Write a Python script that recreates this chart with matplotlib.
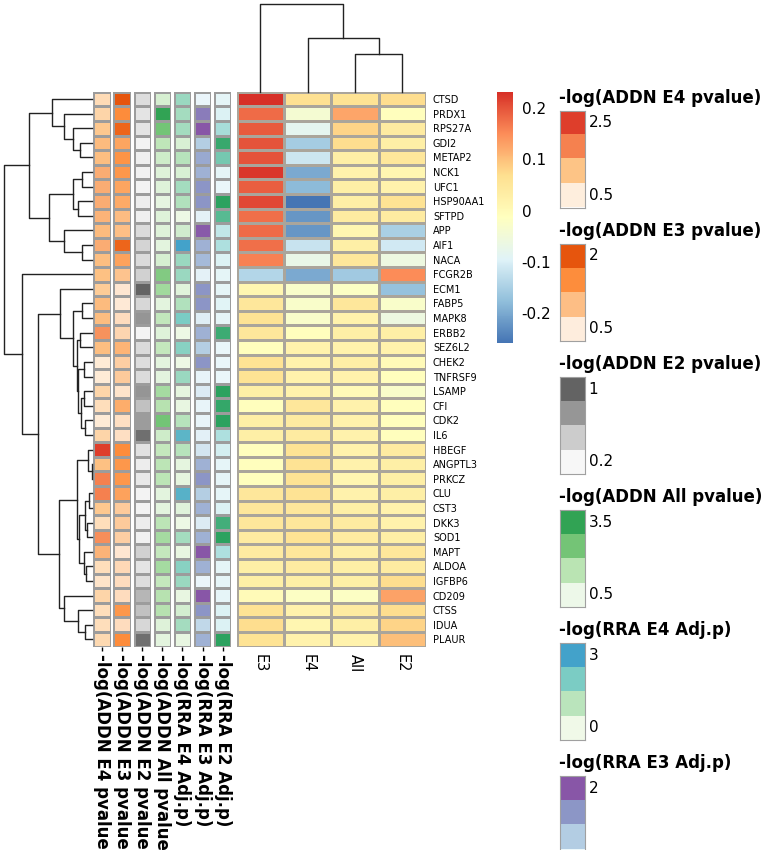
#!/usr/bin/env python3

import numpy as np
import matplotlib as mpl
import matplotlib.pyplot as plt
from matplotlib.colors import LinearSegmentedColormap, Normalize

mpl.rcParams['axes.unicode_minus'] = False
mpl.rcParams['font.family'] = 'DejaVu Sans'

# ---- data ----
genes = ['CTSD', 'PRDX1', 'RPS27A', 'GDI2', 'METAP2', 'NCK1', 'UFC1', 'HSP90AA1',
         'SFTPD', 'APP', 'AIF1', 'NACA', 'FCGR2B', 'ECM1', 'FABP5', 'MAPK8', 'ERBB2',
         'SEZ6L2', 'CHEK2', 'TNFRSF9', 'LSAMP', 'CFI', 'CDK2', 'IL6', 'HBEGF', 'ANGPTL3',
         'PRKCZ', 'CLU', 'CST3', 'DKK3', 'SOD1', 'MAPT', 'ALDOA', 'IGFBP6', 'CD209',
         'CTSS', 'IDUA', 'PLAUR']
conditions = ['E3', 'E4', 'All', 'E2']

e3 = [0.232, 0.18, 0.195, 0.20, 0.20, 0.225, 0.19, 0.21, 0.175, 0.18, 0.175, 0.16,
      -0.14, 0.01, 0.05, 0.06, 0.05, -0.01, 0.06, 0.06, 0.03, -0.01, 0.03, 0.03,
      -0.01, -0.01, -0.01, 0.05, 0.05, 0.05, 0.04, 0.04, 0.03, 0.03, 0.0, 0.06, 0.07, 0.06]
e4 = [0.065, -0.04, -0.08, -0.155, -0.115, -0.20, -0.18, -0.258, -0.22, -0.22, -0.12, -0.07,
      -0.20, -0.03, -0.03, -0.03, -0.01, 0.02, 0.02, 0.02, 0.02, 0.05, 0.04, 0.04,
      0.06, 0.06, 0.06, 0.06, 0.05, 0.05, 0.06, 0.05, 0.04, 0.03, -0.02, 0.02, 0.01, 0.02]
e_all = [0.06, 0.125, 0.08, 0.07, 0.03, 0.02, 0.03, 0.03, 0.04, 0.01, 0.03, 0.05,
         -0.16, -0.02, 0.05, 0.02, 0.03, 0.02, 0.03, 0.02, 0.0, 0.02, 0.02, 0.02,
         0.02, 0.02, 0.01, 0.02, 0.03, 0.04, 0.04, 0.03, 0.03, 0.03, -0.02, 0.04, 0.03, 0.02]
e2 = [0.07, -0.01, 0.04, 0.03, 0.05, 0.01, 0.02, 0.06, 0.04, -0.15, -0.11, -0.06,
      0.15, -0.17, -0.03, -0.06, 0.03, 0.02, 0.0, -0.01, -0.03, -0.01, -0.01, -0.01,
      0.04, 0.03, 0.03, 0.03, 0.02, 0.02, 0.03, 0.05, 0.04, 0.07, 0.13, 0.07, 0.08, 0.10]

addn_e4 = [0.59, 0.72, 0.98, 1.19, 1.14, 1.37, 1.37, 1.37, 1.29, 1.19, 1.37, 1.14, 1.11,
           0.90, 1.19, 1.16, 1.71, 1.14, 0.28, 0.28, 0.72, 0.54, 0.28, 0.72, 2.80, 1.11,
           1.94, 1.94, 0.98, 0.54, 1.76, 1.29, 0.54, 0.41, 0.72, 0.54, 0.54, 0.64]
addn_e3 = [2.25, 1.59, 2.05, 1.25, 1.49, 1.45, 1.25, 1.19, 0.95, 0.91, 2.05, 1.29, 0.85,
           0.35, 0.31, 0.49, 0.59, 1.05, 0.69, 0.75, 0.39, 1.15, 0.45, 0.45, 1.59, 1.45,
           1.45, 1.29, 0.75, 0.75, 0.69, 0.35, 0.55, 0.49, 0.49, 1.45, 0.49, 1.59]
addn_e2 = [0.30, 0.25, 0.25, 0.13, 0.16, 0.15, 0.13, 0.18, 0.16, 0.32, 0.37, 0.32, 0.40,
           1.10, 0.35, 0.77, 0.12, 0.32, 0.30, 0.32, 0.77, 0.50, 0.73, 1.02, 0.27, 0.18,
           0.22, 0.13, 0.13, 0.18, 0.15, 0.40, 0.25, 0.30, 0.57, 0.50, 0.35, 1.02]
addn_all = [0.60, 4.00, 2.68, 1.20, 0.80, 0.40, 0.40, 0.20, 0.40, 0.40, 0.28, 0.60, 2.40,
            1.80, 0.28, 1.12, 0.40, 1.08, 0.28, 0.28, 1.72, 1.40, 2.68, 0.80, 1.08, 1.28,
            1.28, 0.28, 0.28, 1.28, 1.72, 1.08, 1.72, 1.08, 1.40, 1.40, 0.40, 0.28]
rra_e4 = [1.75, 1.58, 1.58, 0.53, 1.23, 0.53, 1.58, 1.33, 0.07, 0.70, 3.50, 1.75, 1.75,
          0.35, 1.33, 2.35, 0.07, 2.10, 0.07, 1.75, 0.25, 0.18, 1.23, 2.98, 1.23, 0.25,
          0.25, 3.08, 0.35, 0.07, 1.58, 0.18, 2.10, 1.75, 0.18, 0.63, 1.58, 0.18]
rra_e3 = [0.05, 1.84, 2.30, 0.76, 1.27, 1.15, 1.54, 1.54, 0.12, 2.25, 1.15, 1.04, 0.12,
          1.54, 1.54, 0.18, 1.15, 0.76, 1.54, 0.07, 0.23, 0.07, 0.07, 0.14, 0.35, 1.15,
          1.54, 0.76, 1.15, 0.23, 1.15, 2.30, 1.15, 0.05, 2.30, 1.54, 0.58, 1.15]
rra_e2 = [0.15, 0.30, 1.14, 2.79, 1.80, 0.15, 0.06, 3.00, 2.25, 0.75, 1.05, 0.30, 0.15,
          0.15, 0.21, 0.12, 2.70, 0.06, 0.06, 0.06, 3.00, 2.85, 3.00, 1.05, 0.45, 0.12,
          0.12, 0.12, 0.30, 2.61, 3.00, 1.05, 0.15, 0.12, 0.12, 0.30, 0.30, 3.00]

annot_names = ['-log(ADDN E4 pvalue)', '-log(ADDN E3 pvalue)', '-log(ADDN E2 pvalue)',
               '-log(ADDN All pvalue)', '-log(RRA E4 Adj.p)', '-log(RRA E3 Adj.p)',
               '-log(RRA E2 Adj.p)']
annot_values = [addn_e4, addn_e3, addn_e2, addn_all, rra_e4, rra_e3, rra_e2]
annot_ranges = [(0.2, 2.8), (0.25, 2.25), (0.1, 1.1), (0.0, 4.0), (0.0, 3.5), (0.0, 2.3), (0.0, 3.0)]
annot_ticks = [('2.5', '0.5'), ('2', '0.5'), ('1', '0.2'), ('3.5', '0.5'), ('3', '0'), ('2', '0'), ('3', '0')]
annot_colors = [['#feeedd', '#fdc486', '#f5814f', '#de3e2b'],
                ['#feeddd', '#fdbe85', '#fd8d3c', '#e6550d'],
                ['#f7f7f7', '#cccccc', '#969696', '#636363'],
                ['#edf8e9', '#bae4b3', '#74c476', '#31a354'],
                ['#f0f9e8', '#bae4bc', '#7bccc4', '#43a2ca'],
                ['#edf8fb', '#b3cde3', '#8c96c6', '#8856a7'],
                ['#edf8fb', '#b2e2e2', '#66c2a4', '#2ca25f']]

# dendrograms: (left, right, merge height); ints are leaf indices
row_a1 = (0, (1, (2, (3, 4, 12.0), 19.3), 27.7), 40.3)
row_a2 = (((5, 6, 10.0), (7, 8, 13.7), 19.3), (9, (10, 11, 10.0), 27.7), 42.7)
row_f = ((14, 15, 10.3), ((16, 17, 12.0), ((18, 19, 8.0), ((20, 21, 8.0), (22, 23, 7.0), 11.0), 14.0), 15.3), 19.3)
row_g = ((24, (25, 26, 0.5), 3.7),
         (((27, 28, 2.7), (29, 30, 4.7), 7.0), (31, (32, 33, 6.3), 7.7), 13.0), 15.3)
row_h = (34, (35, (36, 37, 7.0), 13.7), 28.0)
row_tree = ((row_a1, row_a2, 62.7),
            (12, ((13, row_f, 32.0), (row_g, row_h, 33.0), 53.7), 69.7), 88.0)
col_tree = (0, (1, (2, 3, 38.0), 54.0), 88.0)

# ---- layout (pixels) ----
W, H = 771, 850
TOP, BOT = 91.7, 646.7
n = len(genes)

fig = plt.figure(figsize=(W / 100, H / 100), dpi=100)


def px_axes(x0, y0, x1, y1):
    return fig.add_axes([x0 / W, 1 - y1 / H, (x1 - x0) / W, (y1 - y0) / H])


def draw_tree(ax, node, orient):
    if isinstance(node, int):
        return node + 0.5, 0.0
    left, right, h = node
    pl, hl = draw_tree(ax, left, orient)
    pr, hr = draw_tree(ax, right, orient)
    if orient == 'left':
        ax.plot([hl, h, h, hr], [pl, pl, pr, pr], color='#222222', lw=1.0, clip_on=False)
    else:
        ax.plot([pl, pl, pr, pr], [hl, h, h, hr], color='#222222', lw=1.0, clip_on=False)
    return (pl + pr) / 2, h


# main heatmap
cmap = LinearSegmentedColormap.from_list(
    'rdylbu', ['#4575b4', '#91bfdb', '#e0f3f8', '#ffffbf', '#fee090', '#fc8d59', '#d73027'])
mat = np.column_stack([e3, e4, e_all, e2])
norm = Normalize(vmin=mat.min(), vmax=mat.max())

ax = px_axes(236.7, TOP, 426, BOT)
mesh = ax.pcolormesh(mat, cmap=cmap, norm=norm, edgecolors='#aaa59b', linewidth=0.9)
ax.set_xlim(0, len(conditions))
ax.set_ylim(n, 0)
for s in ax.spines.values():
    s.set_visible(False)
ax.yaxis.tick_right()
ax.set_yticks(np.arange(n) + 0.5)
ax.set_yticklabels(genes, fontsize=7)
ax.tick_params(axis='y', length=0, pad=5)
ax.set_xticks(np.arange(len(conditions)) + 0.5)
ax.set_xticklabels(conditions, fontsize=10.5, rotation=270)
ax.tick_params(axis='x', length=0, pad=5)

# annotation columns
for k, (name, vals, (lo, hi), cols) in enumerate(zip(annot_names, annot_values, annot_ranges, annot_colors)):
    x0 = 93.3 + 20.1 * k
    aax = px_axes(x0, TOP, x0 + 17.4, BOT)
    acmap = LinearSegmentedColormap.from_list('a%d' % k, cols)
    aax.pcolormesh(np.array(vals).reshape(-1, 1), cmap=acmap, vmin=lo, vmax=hi,
                   edgecolors='#9c9c9c', linewidth=0.9)
    aax.set_xlim(0, 1)
    aax.set_ylim(n, 0)
    for s in aax.spines.values():
        s.set_visible(False)
    aax.set_yticks([])
    aax.set_xticks([0.5])
    aax.set_xticklabels([name], rotation=270, fontsize=12, fontweight='bold')
    aax.tick_params(axis='x', length=3, width=1, pad=2)

# row dendrogram
rax = px_axes(4, TOP, 92, BOT)
draw_tree(rax, row_tree, 'left')
rax.set_xlim(row_tree[2], 0)
rax.set_ylim(n, 0)
rax.axis('off')

# column dendrogram
cax_d = px_axes(236.7, 4, 426, 92)
draw_tree(cax_d, col_tree, 'top')
cax_d.set_xlim(0, len(conditions))
cax_d.set_ylim(0, col_tree[2])
cax_d.axis('off')

# colorbar
cb_ax = px_axes(496.7, TOP, 513.3, 343)
cb = fig.colorbar(mesh, cax=cb_ax)
cb.outline.set_visible(False)
cb.set_ticks([-0.2, -0.1, 0, 0.1, 0.2])
cb.set_ticklabels(['-0.2', '-0.1', '0', '0.1', '0.2'])
cb.ax.tick_params(length=0, pad=6, labelsize=11)

# annotation legends
for k, (name, cols, (t_hi, t_lo)) in enumerate(zip(annot_names, annot_colors, annot_ticks)):
    top = 110.8 + 133.1 * k
    if top > H:
        break
    lax = px_axes(560, top, 585, top + 96.7)
    lax.imshow(np.arange(4)[::-1].reshape(-1, 1),
               cmap=LinearSegmentedColormap.from_list('l%d' % k, cols, N=4),
               aspect='auto', extent=(0, 1, 0, 4))
    lax.set_xticks([])
    lax.set_yticks([])
    for s in lax.spines.values():
        s.set_edgecolor('#a0a0a0')
        s.set_linewidth(0.8)
    lax.text(1.15, 3.5, t_hi, transform=lax.transData, fontsize=11, va='center', ha='left')
    lax.text(1.15, 0.5, t_lo, transform=lax.transData, fontsize=11, va='center', ha='left')
    fig.text(559 / W, 1 - (top - 13) / H, name, fontsize=12, fontweight='bold',
             ha='left', va='center')

fig.savefig('out.png', dpi=100)
